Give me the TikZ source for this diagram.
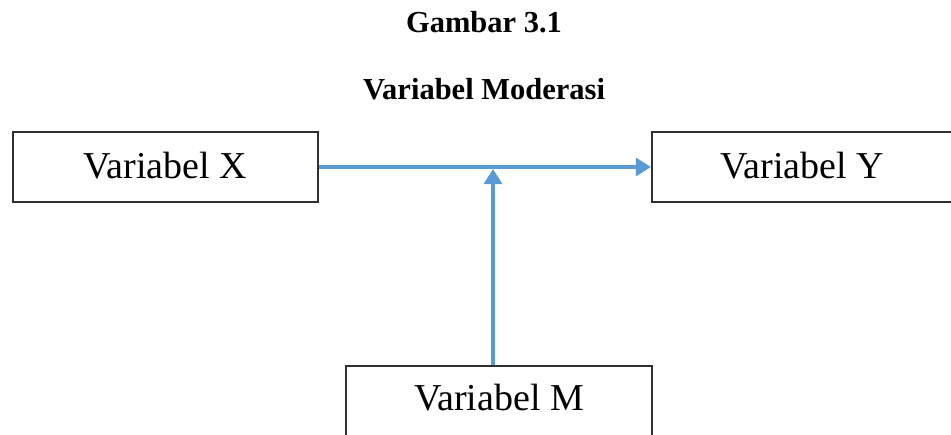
\documentclass[tikz,border=0pt]{standalone}
\usepackage{fontspec}
\setmainfont{Liberation Serif}
\usetikzlibrary{arrows.meta}
\definecolor{arrowblue}{HTML}{5B9BD5}
\definecolor{boxgray}{HTML}{2F2F2F}
\tikzset{
  varbox/.style={draw=boxgray, line width=2.2pt, inner sep=0pt},
  vartext/.style={font=\fontsize{38}{42}\selectfont, anchor=base, inner sep=0pt},
  titletext/.style={font=\bfseries\fontsize{30.5}{34}\selectfont, anchor=base, inner sep=0pt},
  flow/.style={draw=arrowblue, line width=3.2pt, -{Triangle[length=15pt,width=18pt]}}
}
\begin{document}
\begin{tikzpicture}[x=1pt,y=-1pt]
\useasboundingbox (0,0) rectangle (951,434);
\clip (0,0) rectangle (951,434);
\node[titletext] (t1) at (484,32) {Gambar 3.1};
\node[titletext] (t2) at (484,99) {Variabel Moderasi};
\node[varbox, minimum width=305pt, minimum height=70pt] (x) at (165.5,167) {};
\node[vartext] (xt) at (165,178) {Variabel X};
\node[varbox, minimum width=300pt, minimum height=70pt] (y) at (802,167) {};
\node[vartext] (yt) at (802,178) {Variabel Y};
\node[varbox, minimum width=306pt, minimum height=90pt] (m) at (499,411) {};
\node[vartext] (mt) at (499,410) {Variabel M};
\coordinate (j) at (493,168);
\draw[flow] (x.east) -- (y.west);
\draw[flow, shorten >=1pt] (m.north -| j) -- (j);
\end{tikzpicture}
\end{document}
